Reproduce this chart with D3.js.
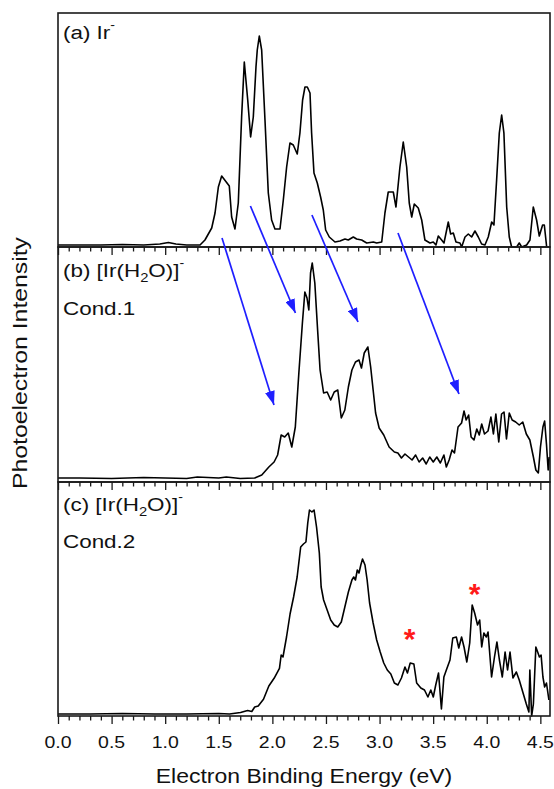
<!DOCTYPE html>
<html><head><meta charset="utf-8">
<script src="https://cdn.jsdelivr.net/npm/d3@7"></script>
<style>body{margin:0;background:#fff}svg{display:block}</style>
</head><body><svg id="chart" width="554" height="789"></svg>
<script>
// ---- data (binding energy in eV, intensity in arbitrary units) ----
const energyA = [0.00,0.20,0.40,0.60,0.80,0.95,1.03,1.10,1.20,1.325,1.371,1.434,1.465,1.496,1.527,1.598,1.620,1.651,1.682,1.713,1.738,1.770,1.797,1.822,1.847,1.859,1.878,1.900,1.931,1.962,1.993,2.024,2.071,2.102,2.133,2.164,2.195,2.232,2.257,2.282,2.304,2.326,2.351,2.366,2.388,2.419,2.450,2.475,2.497,2.531,2.584,2.631,2.677,2.708,2.755,2.786,2.833,2.880,2.942,2.973,3.020,3.050,3.081,3.128,3.153,3.190,3.221,3.253,3.277,3.300,3.324,3.361,3.393,3.423,3.470,3.501,3.526,3.548,3.579,3.601,3.641,3.663,3.688,3.713,3.750,3.766,3.797,3.828,3.859,3.890,3.921,3.952,3.983,4.014,4.046,4.067,4.092,4.117,4.139,4.160,4.186,4.210,4.232,4.279,4.303,4.326,4.372,4.403,4.434,4.465,4.490,4.521,4.537,4.559];
const intensityA = [2,2,2,2.5,2,3,4.5,3,2,2,7,19,34,60,71,61,30,18,44,130,185,147,110,130,180,197,211,197,127,54,27,18,18,47,80,104,102,93,114,147,160,160,154,114,74,64,50,37,17,10,5,6,8,7,10,8,7,4,5,4,5,34,55,55,40,80,105,80,44,30,43,39,27,7,4,5,2,11,7,4,25,13,14,5,4,0,10,13,10,16,10,3,2,10,25,22,67,114,132,114,40,10,0,0,4,0,2,7,40,27,11,22,22,0];

const energyB = [0.00,0.20,0.50,0.80,1.00,1.20,1.30,1.50,1.57,1.70,1.835,1.901,1.967,2.016,2.049,2.082,2.115,2.148,2.181,2.214,2.247,2.280,2.303,2.323,2.340,2.356,2.372,2.396,2.422,2.445,2.478,2.511,2.544,2.577,2.610,2.643,2.676,2.709,2.742,2.775,2.808,2.831,2.857,2.891,2.917,2.940,2.963,2.996,3.039,3.089,3.138,3.171,3.204,3.237,3.270,3.303,3.336,3.369,3.402,3.435,3.468,3.501,3.534,3.567,3.600,3.623,3.649,3.676,3.699,3.732,3.765,3.788,3.808,3.831,3.854,3.881,3.907,3.930,3.953,3.979,4.012,4.039,4.062,4.085,4.112,4.138,4.161,4.184,4.210,4.237,4.270,4.303,4.336,4.369,4.402,4.435,4.458,4.481,4.501,4.524,4.540,4.557,4.573,4.583];
const intensityB = [4,4,3.5,4.5,4,3.5,5,4,5,3.5,4,7,15,20,27,47,45,49,35,55,109,159,190,184,172,209,219,199,152,112,89,90,82,90,92,64,72,95,112,120,122,114,129,135,115,92,69,54,47,35,30,29,24,28,25,22,27,20,24,18,25,20,25,19,27,15,22,32,29,55,59,71,62,67,45,42,53,47,58,48,51,65,48,68,40,68,70,43,69,62,60,57,60,48,42,25,12,9,35,55,61,38,12,25];

const energyC = [0.00,0.30,0.60,0.90,1.20,1.50,1.600,1.703,1.769,1.808,1.835,1.868,1.917,1.967,2.016,2.066,2.082,2.099,2.132,2.165,2.198,2.231,2.264,2.290,2.313,2.330,2.346,2.369,2.389,2.412,2.438,2.455,2.478,2.511,2.544,2.577,2.610,2.643,2.676,2.709,2.742,2.759,2.775,2.792,2.808,2.825,2.841,2.864,2.884,2.907,2.940,2.973,3.006,3.039,3.072,3.105,3.138,3.171,3.204,3.237,3.260,3.286,3.320,3.346,3.385,3.419,3.451,3.478,3.501,3.524,3.550,3.577,3.600,3.623,3.657,3.683,3.716,3.739,3.765,3.788,3.814,3.841,3.864,3.887,3.914,3.934,3.953,3.973,3.996,4.012,4.045,4.072,4.095,4.118,4.145,4.171,4.194,4.217,4.244,4.276,4.303,4.336,4.369,4.393,4.402,4.419,4.435,4.458,4.475,4.491,4.507,4.524,4.540,4.557,4.580];
const intensityC = [2,2,2.5,2,2,2.5,2,3.5,5.5,4.5,9,10,16.7,30,37.7,47.7,61,59,79,102,119,139,169,172,174,193,206,204,206,189,163,129,116,106,96,91,89,94,109,124,136,139,136,146,143,151,157,151,136,113,93,76,64,53,46,42,33,31,38,49,43,53,52,33,28,26,19,26,19,31,43,7,39,46,56,78,79,68,79,69,54,73,111,103,91,96,69,83,79,84,39,59,74,56,39,64,46,64,38,44,36,24,12,4,46,0,12,69,64,59,61,39,29,33,16];

const xTickValues = [0,0.5,1.0,1.5,2.0,2.5,3.0,3.5,4.0,4.5];
const xTickLabels = ["0.0","0.5","1.0","1.5","2.0","2.5","3.0","3.5","4.0","4.5"];
const panelIds = ["a","b","c"];
const panelTitles = ["(a) Ir","(b) [Ir(H","(c) [Ir(H"];
const panelConds = ["", "Cond.1", "Cond.2"];
// arrows: from a point in panel a to a point in panel b (energy, intensity)
const arrowFromE = [1.530, 1.795, 2.369, 3.172];
const arrowFromI = [9, 41, 32, 14];
const arrowToE   = [2.015, 2.215, 2.799, 3.741];
const arrowToI   = [77, 169, 160, 88];
// red asterisks in panel c (centre position)
const starE = [3.28, 3.887];
const starI = [84, 129];

// ---- layout ----
const svg = d3.select("#chart");
const left = 58, right = 550;
const panelTop = [13, 247, 482];
const panelBottom = [247, 482, 716];
const labelOffset = [26, 30, 29];
const condOffset = [0, 38, 37];
const fontFam = "Arial, 'Liberation Sans', Helvetica, sans-serif";
const ink = "#1a1a1a";
const sx = 1.18; // reference glyphs are wider than plain Arial

const x = d3.scaleLinear().domain([0, 4.59]).range([left, right]);
const ys = panelIds.map((id, i) => d3.scaleLinear().domain([0, panelBottom[i]-panelTop[i]]).range([panelBottom[i], panelTop[i]]));
const series = [
  energyA.map((e,i)=>[e,intensityA[i]]),
  energyB.map((e,i)=>[e,intensityB[i]]),
  energyC.map((e,i)=>[e,intensityC[i]])
];

function wideText(px, py, size, extra) {
  return svg.append("g").attr("transform", `translate(${px},${py}) ${extra||""} scale(${sx},1)`)
    .append("text").attr("font-family", fontFam).attr("font-size", size).attr("fill","#111");
}

// curves
series.forEach((s, i) => {
  const line = d3.line().x(d=>x(d[0])).y(d=>ys[i](d[1]));
  svg.append("path").datum(s).attr("d", line)
    .attr("fill","none").attr("stroke","#000").attr("stroke-width",1.6)
    .attr("stroke-linejoin","round");
});

// frames and bottom axes
panelIds.forEach((id, i) => {
  svg.append("rect").attr("x", left).attr("y", panelTop[i])
    .attr("width", right-left).attr("height", panelBottom[i]-panelTop[i])
    .attr("fill","none").attr("stroke", ink).attr("stroke-width",1.6);
  const minor = d3.range(0, 4.591, 0.1).map(v=>+v.toFixed(2)).filter(v => Math.abs(v*2 - Math.round(v*2)) > 1e-6);
  const gMin = svg.append("g").attr("transform",`translate(0,${panelBottom[i]})`)
    .call(d3.axisBottom(x).tickValues(minor).tickSize(4.5).tickFormat(""));
  gMin.select(".domain").remove();
  gMin.selectAll("line").attr("stroke", ink).attr("stroke-width",1.3);
  const gMaj = svg.append("g").attr("transform",`translate(0,${panelBottom[i]})`)
    .call(d3.axisBottom(x).tickValues(xTickValues).tickSize(8).tickFormat(""));
  gMaj.select(".domain").remove();
  gMaj.selectAll("line").attr("stroke", ink).attr("stroke-width",1.3);
});
// tick labels under the bottom panel
xTickValues.forEach((v, k) => {
  wideText(x(v), 748, 16.5).attr("text-anchor","middle").text(xTickLabels[k]);
});

// panel labels
panelIds.forEach((id, i) => {
  const t = wideText(63, panelTop[i]+labelOffset[i], 19);
  if (i === 0) {
    t.append("tspan").text(panelTitles[0]);
    t.append("tspan").attr("font-size", 12).attr("dy", -10).text("-");
  } else {
    t.append("tspan").text(panelTitles[i]);
    t.append("tspan").attr("font-size", 12.5).attr("dy", 5).text("2");
    t.append("tspan").attr("dy", -5).text("O)]");
    t.append("tspan").attr("font-size", 12).attr("dy", -10).text("-");
    wideText(63, panelTop[i]+labelOffset[i]+condOffset[i], 19).text(panelConds[i]);
  }
});

// arrows
const defs = svg.append("defs");
defs.append("marker").attr("id","ah").attr("markerUnits","userSpaceOnUse")
  .attr("viewBox","0 0 14 10").attr("refX",14).attr("refY",5)
  .attr("markerWidth",14).attr("markerHeight",10).attr("orient","auto")
  .append("path").attr("d","M0,0 L14,5 L0,10 Z").attr("fill","#1f1fff");
arrowFromE.forEach((e, k) => {
  svg.append("line")
    .attr("x1", x(e)).attr("y1", ys[0](arrowFromI[k]))
    .attr("x2", x(arrowToE[k])).attr("y2", ys[1](arrowToI[k]))
    .attr("stroke","#1f1fff").attr("stroke-width",1.7)
    .attr("marker-end","url(#ah)");
});

// red asterisks
starE.forEach((e,k) => {
  svg.append("text").attr("x", x(e)).attr("y", ys[2](starI[k]))
    .attr("dy","0.57em")
    .attr("text-anchor","middle").attr("font-family", fontFam)
    .attr("font-size", 30).attr("font-weight","bold").attr("fill","#ff1a1a").text("*");
});

// axis titles
wideText((left+right)/2, 783, 19.5).attr("text-anchor","middle").text("Electron Binding Energy (eV)");
wideText(27, 363, 21, "rotate(-90)").attr("text-anchor","middle").text("Photoelectron Intensity");
</script></body></html>
